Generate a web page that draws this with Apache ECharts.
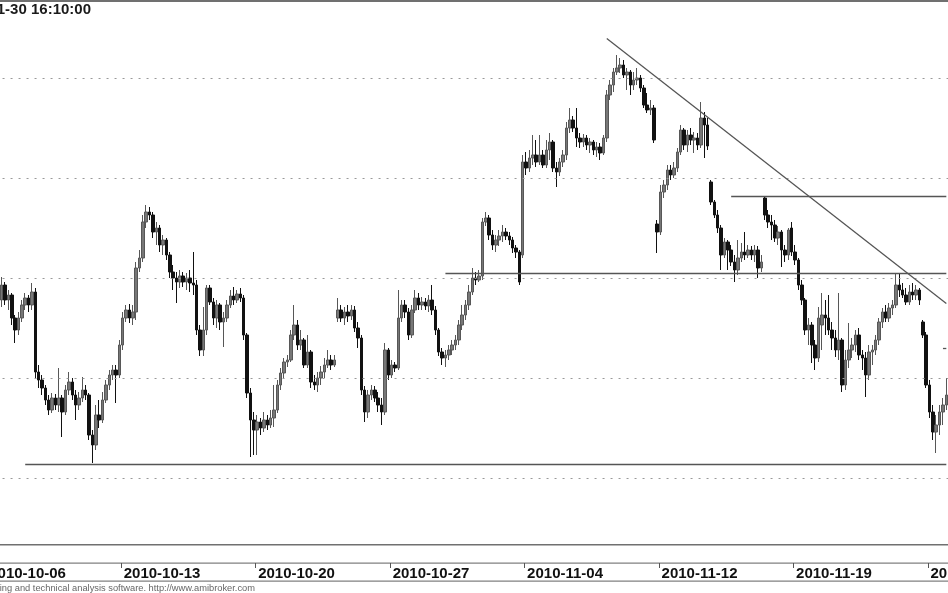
<!DOCTYPE html>
<html>
<head>
<meta charset="utf-8">
<script src="https://cdn.jsdelivr.net/npm/echarts@6/dist/echarts.min.js"></script>
<style>html,body{margin:0;padding:0;background:#fff;}#c{width:948px;height:593px;}</style>
</head>
<body>
<div id="c"></div>
<script>
// ---- categories (trading days x hourly bars) ----
const days = ['2010-10-06','2010-10-07','2010-10-08','2010-10-11','2010-10-12','2010-10-13','2010-10-14','2010-10-15',
  '2010-10-18','2010-10-19','2010-10-20','2010-10-21','2010-10-22','2010-10-25','2010-10-26','2010-10-27','2010-10-28',
  '2010-10-29','2010-11-02','2010-11-03','2010-11-04','2010-11-05','2010-11-08','2010-11-09','2010-11-10','2010-11-12',
  '2010-11-15','2010-11-16','2010-11-17','2010-11-18','2010-11-19','2010-11-22','2010-11-23','2010-11-24','2010-11-25','2010-11-26'];
const hours = ['09:00','10:00','11:00','12:00','13:00','14:00','15:00','16:00'];
const weekLabels = ['2010-10-06','2010-10-13','2010-10-20','2010-10-27','2010-11-04','2010-11-12','2010-11-19','2010-11-26'];
const firstBarOffset = 4;   // first visible bar is 2010-10-06 13:00
const lastCategoryCount = 286; // through 2010-11-26 14:00

// ---- OHLC values ----
const open = [
2689,2696.5,2689,2691.5,2680,2674,2680,2686.5,2690,2686.5,
2693,2653,2649,2645,2639,2634,2640,2636.5,2640,2633,
2644,2648,2641.5,2636.5,2640,2644,2641.5,2621.5,2616.5,2631.5,
2629,2639,2646.5,2651.5,2654,2651.5,2666.5,2680,2684,2680,
2683,2705,2710,2728,2733,2731.5,2723,2725,2716.5,2719,
2711.5,2703,2700,2698,2701,2698,2700,2697.5,2696.5,2674,
2664,2674,2695,2688,2680,2686.5,2678,2680,2686.5,2691,
2689,2692,2690,2671.5,2642.5,2629,2624,2628,2625,2629,
2626.5,2630,2634,2646.5,2652.5,2658,2659,2671.5,2676.5,2666.5,
2669,2656.5,2663,2648,2646.5,2650,2653,2656.5,2659,2656.5,
2680,2684,2680,2683,2681,2684,2675,2670,2644,2633,
2641.5,2644,2640,2636.5,2633,2664,2651.5,2656.5,2655,2680,
2686.5,2683,2671.5,2684,2690,2686.5,2688,2686,2689,2684,
2674,2663,2660,2661.5,2664,2666.5,2669,2676.5,2681.5,2686.5,
2693,2700,2699,2701,2728,2730,2721.5,2716.5,2719,2721,
2723,2721,2719,2715,2713,2711.5,2758,2755,2760,2761.5,
2758,2761.5,2756.5,2764,2768,2755,2753,2758,2761.5,2775,
2779,2775,2770,2768,2770,2766.5,2768,2764,2765.5,2762.5,
2770,2791.5,2796.5,2803,2805,2806.5,2801.5,2803,2796.5,2799,
2800,2795,2786.5,2784,2785,2727,2723,2743,2746.5,2754,
2751.5,2755,2763,2774,2766.5,2771.5,2769,2770,2766.5,2780,
2776.5,2748,2738,2731.5,2725,2711.5,2718,2714,2708,2704,
2710,2713,2711.5,2714,2711.5,2714,2705,2740,2731.5,2728,
2726.5,2720,2723,2714,2711.5,2725,2713,2709,2696.5,2689,
2674,2676.5,2666.5,2660,2676.5,2681.5,2680,2674,2670,2664,
2669,2646.5,2659,2664,2666.5,2671.5,2661.5,2660,2651.5,2663,
2664,2669,2678,2683,2680,2685,2686.5,2696.5,2694,2691.5,
2688,2693,2691.5,2694,2678,2671.5,2646.5,2633,2623,2626.5,
2633,2636.5];
const close = [
2696.5,2689,2691.5,2680,2674,2680,2686.5,2690,2686.5,2693,
2653,2649,2645,2639,2634,2640,2636.5,2640,2633,2644,
2648,2641.5,2636.5,2640,2644,2641.5,2621.5,2616.5,2631.5,2629,
2639,2646.5,2651.5,2654,2651.5,2666.5,2680,2684,2680,2683,
2705,2710,2728,2733,2731.5,2723,2725,2716.5,2719,2711.5,
2703,2700,2698,2701,2698,2700,2697.5,2696.5,2674,2664,
2674,2695,2688,2680,2686.5,2678,2680,2686.5,2691,2689,
2692,2690,2671.5,2642.5,2629,2624,2628,2625,2629,2626.5,
2630,2634,2646.5,2652.5,2658,2659,2671.5,2676.5,2666.5,2669,
2656.5,2663,2648,2646.5,2650,2653,2656.5,2659,2656.5,2659,
2684,2680,2683,2681,2684,2675,2670,2644,2633,2641.5,
2644,2640,2636.5,2633,2664,2651.5,2656.5,2655,2680,2686.5,
2683,2671.5,2684,2690,2686.5,2688,2686,2689,2684,2674,
2663,2660,2661.5,2664,2666.5,2669,2676.5,2681.5,2686.5,2693,
2700,2699,2701,2728,2730,2721.5,2716.5,2719,2721,2723,
2721,2719,2715,2713,2698,2758,2755,2760,2761.5,2758,
2761.5,2756.5,2764,2768,2755,2753,2758,2761.5,2775,2779,
2775,2770,2768,2770,2766.5,2768,2764,2765.5,2762.5,2770,
2791.5,2796.5,2803,2805,2806.5,2801.5,2803,2796.5,2799,2800,
2795,2786.5,2784,2785,2769,2723,2743,2746.5,2754,2751.5,
2755,2763,2774,2766.5,2771.5,2769,2770,2766.5,2780,2776.5,
2766,2738,2731.5,2725,2711.5,2718,2714,2708,2704,2710,
2713,2711.5,2714,2711.5,2714,2705,2708,2731.5,2728,2726.5,
2720,2723,2714,2711.5,2724,2713,2709,2696.5,2689,2674,
2676.5,2666.5,2660,2680,2681.5,2680,2674,2670,2664,2669,
2646.5,2659,2664,2666.5,2671.5,2661.5,2660,2651.5,2663,2664,
2669,2678,2683,2680,2685,2686.5,2696.5,2694,2691.5,2688,
2693,2691.5,2694,2689,2671.5,2646.5,2633,2623,2626.5,2633,
2636.5,2641.5];
const low = [
2685.5,2686.5,2684,2676.5,2667.5,2671.5,2678,2684,2683,2684,
2650,2645,2641.5,2636.5,2631.5,2632.5,2634,2633,2620.5,2631.5,
2641.5,2639,2629,2634,2638,2639,2619,2607.5,2614,2625,
2627.5,2637.5,2644,2649,2637.5,2650,2664,2678,2677.5,2676.5,
2679,2703,2708,2725,2729,2720,2716.5,2713,2711.5,2709,
2700,2694,2687.5,2695,2695.5,2694,2693,2691.5,2671.5,2661,
2661,2671.5,2686.5,2676.5,2675,2674,2665.5,2678,2685,2686.5,
2687.5,2688,2669,2640,2610.5,2611.5,2611.5,2621.5,2623,2624,
2625,2625.5,2632.5,2644,2650,2655.5,2658,2669,2664,2664,
2655,2655,2645,2644,2643,2646.5,2650,2655,2654,2655.5,
2678,2678,2676.5,2678,2679,2673,2665,2641.5,2628,2630,
2639,2638,2633,2626.5,2631.5,2649,2650,2653,2654,2678,
2680,2669,2670,2682.5,2684,2684,2684,2683,2681.5,2671.5,
2661,2656.5,2655.5,2659,2661.5,2664,2666.5,2674,2679,2684,
2691.5,2696.5,2698,2699,2726,2719,2714,2713,2716,2718,
2719,2716.5,2712.5,2710,2696.5,2710,2751.5,2753,2756.5,2755.5,
2756.5,2755,2755,2759,2753,2745.5,2751,2755.5,2759,2772.5,
2773,2765.5,2765,2765.5,2764,2762.5,2761.5,2760.5,2759,2761.5,
2768,2789,2793,2801.5,2802.5,2800,2794,2791.5,2794,2796.5,
2793,2785,2782.5,2781.5,2767.5,2712.5,2721.5,2740,2744,2749,
2750,2753,2761.5,2764,2763,2766.5,2762.5,2764,2765,2760,
2764,2736.5,2730,2722.5,2704,2710,2704,2706,2698,2701.5,
2708,2709,2710,2709,2708,2700,2703,2729,2725,2719,
2718,2716.5,2705.5,2708,2709,2711,2706.5,2694,2686.5,2671.5,
2666.5,2657.5,2654,2658,2664,2671.5,2671.5,2664,2660.5,2659,
2643,2644,2655,2660,2663,2659,2654,2640.5,2649,2656.5,
2661.5,2666.5,2675,2678,2678,2681.5,2685,2690.5,2690,2686.5,
2686.5,2689,2689,2686.5,2670,2645,2630,2619,2612.5,2621.5,
2626.5,2634];
const high = [
2700.5,2698,2694,2692.5,2681.5,2683,2689,2692.5,2691.5,2697.5,
2695,2656.5,2651.5,2646.5,2641.5,2642.5,2642,2655,2641.5,2646.5,
2653,2650,2644,2643,2650.5,2646.5,2642.5,2624,2636.5,2639,
2643,2649,2654,2656.5,2656.5,2669,2683,2686.5,2687,2686.5,
2708,2714,2731.5,2736.5,2735.5,2733,2728,2726.5,2721.5,2720,
2713,2706.5,2703,2704,2703,2702.5,2704,2713,2699,2676.5,
2685.5,2696.5,2696.5,2690,2689,2687.5,2683,2689,2694,2695.5,
2694,2695,2691.5,2672.5,2645,2633,2631.5,2630,2633,2631.5,
2634,2646.5,2649,2655,2660,2661.5,2674,2686.5,2679,2674,
2670,2671.5,2664,2651.5,2653,2656,2660,2664,2661.5,2661.5,
2690,2686.5,2685.5,2686.5,2686.5,2686,2678,2671.5,2646,2644,
2646.5,2646,2643,2640,2667.5,2665,2659,2658,2694,2689,
2689,2685,2686.5,2694,2692.5,2690.5,2690,2691.5,2696.5,2686,
2675,2665,2664,2666.5,2669,2671.5,2679,2686.5,2689,2696.5,
2705,2703,2704,2730,2733,2731.5,2724,2721.5,2724,2726.5,
2725,2723,2720.5,2716.5,2714,2761.5,2763,2764,2771.5,2769,
2771.5,2764,2769,2772.5,2769,2758,2760,2764,2778,2785,
2781,2785,2772.5,2772,2771.5,2770,2769,2768,2767.5,2771.5,
2794,2799,2805,2811.5,2810,2809,2805,2804,2803,2805,
2801.5,2796.5,2792.5,2789,2786.5,2729,2746.5,2749,2756.5,2756.5,
2758,2765,2776.5,2775,2774,2775,2773,2772.5,2788,2783,
2780,2749,2739,2734,2726.5,2720,2719,2716.5,2711.5,2719,
2717.5,2723,2716.5,2716,2716.5,2716,2711.5,2741,2734,2731.5,
2729,2726,2724,2716.5,2725,2728,2716.5,2710,2699,2690,
2680,2678,2669,2685.5,2692.5,2689,2691.5,2678,2674,2692.5,
2670,2664,2677.5,2670,2674,2675,2664,2663,2666.5,2666.5,
2671.5,2680,2685,2686.5,2687.5,2689,2702.5,2702.5,2697.5,2695,
2696.5,2697.5,2696.5,2695,2679,2673,2649,2636.5,2631.5,2636.5,
2640,2650];

// ---- reference levels / drawn lines (category index, price) ----
const gridLevels = [2600, 2650, 2700, 2750, 2800];
const trendLine = [[184, 2819.7], [285, 2687.2]];
const supportLine = [[11, 2607], [285, 2607]];
const middleLine = [[136, 2702.5], [285, 2702.5]];
const upperLine = [[221, 2741], [285, 2741]];
const shortLine = [[284, 2665], [285, 2665]];

// ---- build ----
const categories = [];
days.forEach(d => hours.forEach(h => categories.push(d + ' ' + h)));
categories.length = lastCategoryCount;
const ohlc = categories.map((c, k) => {
  const i = k - firstBarOffset;
  return i < 0 ? '-' : [open[i], close[i], low[i], high[i]];
});
const isWeekStart = (idx, val) => val.slice(11) === '09:00' && weekLabels.indexOf(val.slice(0, 10)) >= 0;
const seg = (pts) => [{coord: [categories[pts[0][0]], pts[0][1]]}, {coord: [categories[pts[1][0]], pts[1][1]]}];

const FONT = 'Liberation Sans, Arial, Helvetica, sans-serif';
const chart = echarts.init(document.getElementById('c'), null, {renderer: 'canvas'});
chart.setOption({
  animation: false,
  backgroundColor: '#ffffff',
  grid: [
    {left: -13.45, right: 0, top: 3, bottom: 48, outerBoundsMode: 'none', containLabel: false},
    {left: -13.45, right: 0, top: 545, bottom: 30, outerBoundsMode: 'none', containLabel: false}
  ],
  xAxis: [
    {type: 'category', gridIndex: 0, data: categories, show: false, boundaryGap: true},
    {type: 'category', gridIndex: 1, data: categories, position: 'bottom', boundaryGap: true,
     axisLine: {show: false},
     axisTick: {show: true, inside: false, length: 5, interval: isWeekStart, lineStyle: {color: '#555', width: 1}},
     axisLabel: {show: true, inside: false, interval: isWeekStart, align: 'left', verticalAlign: 'top',
       margin: 3, padding: [0, 0, 0, 1], hideOverlap: false,
       formatter: v => v.slice(0, 10), fontFamily: FONT, fontSize: 15, fontWeight: 'bold', color: '#111'},
     splitLine: {show: false}}
  ],
  yAxis: [
    {type: 'value', gridIndex: 0, min: 2566.5, max: 2837.5, show: false, splitLine: {show: false}},
    {type: 'value', gridIndex: 1, show: false, splitLine: {show: false}}
  ],
  series: [
    {
      type: 'line', xAxisIndex: 0, yAxisIndex: 0, data: [], silent: true, z: 1,
      markLine: {
        silent: true, symbol: 'none', label: {show: false}, animation: false,
        lineStyle: {color: '#999999', type: [2, 6], width: 1},
        data: gridLevels.map(v => ({yAxis: v}))
      }
    },
    {
      type: 'candlestick', xAxisIndex: 0, yAxisIndex: 0, data: ohlc, barWidth: 3, z: 3,
      itemStyle: {color: '#777777', color0: '#111111', borderColor: '#575757', borderColor0: '#111111', borderWidth: 1},
      markLine: {
        silent: true, symbol: 'none', label: {show: false}, animation: false,
        lineStyle: {color: '#555555', type: 'solid', width: 1.3},
        data: [seg(trendLine), seg(supportLine), seg(middleLine), seg(upperLine), seg(shortLine)]
      }
    }
  ],
  graphic: [
    {type: 'rect', left: 0, top: 0, shape: {width: 948, height: 2}, style: {fill: '#707070'}, silent: true},
    {type: 'rect', left: 0, top: 544, shape: {width: 948, height: 1.5}, style: {fill: '#707070'}, silent: true},
    {type: 'rect', left: 0, top: 562.5, shape: {width: 948, height: 1.3}, style: {fill: '#808080'}, silent: true},
    {type: 'rect', left: 0, top: 580.5, shape: {width: 948, height: 1.3}, style: {fill: '#808080'}, silent: true},
    {type: 'text', x: 91, y: 2, silent: true,
     style: {text: '2010-11-30 16:10:00', textAlign: 'right', textVerticalAlign: 'top',
       font: 'bold 15px ' + FONT, fill: '#1a1a1a'}},
    {type: 'text', x: 255, y: 588, silent: true,
     style: {text: 'AmiBroker - charting and technical analysis software. http://www.amibroker.com',
       textAlign: 'right', textVerticalAlign: 'middle', font: '9.3px ' + FONT, fill: '#666'}}
  ]
});
</script>
</body>
</html>
